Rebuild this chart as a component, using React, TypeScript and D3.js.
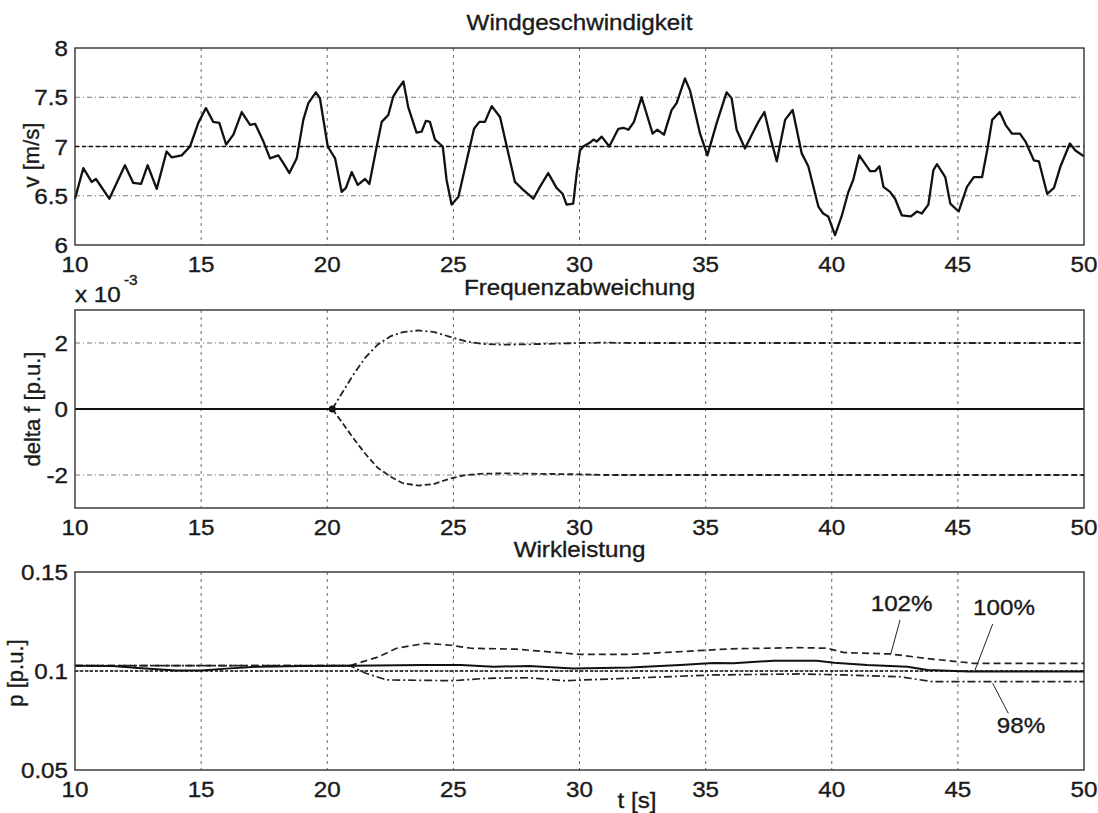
import * as d3 from 'd3';

type Pt = [number, number];

const timeTicks = [10, 15, 20, 25, 30, 35, 40, 45, 50];
const windTicks = [6, 6.5, 7, 7.5, 8];
const freqTicks = [-2, 0, 2];
const powerTicks = [0.05, 0.1, 0.15];

// Windgeschwindigkeit v [m/s] over t [s]
const windSpeed: Pt[] = [
  [10, 6.47], [10.33, 6.78], [10.66, 6.64], [10.83, 6.67], [11.36, 6.47], [11.98, 6.81],
  [12.31, 6.63], [12.62, 6.62], [12.88, 6.81], [13.24, 6.57], [13.63, 6.95], [13.83, 6.89],
  [14.23, 6.91], [14.56, 7.0], [14.89, 7.24], [15.19, 7.39], [15.48, 7.25], [15.72, 7.24],
  [15.99, 7.02], [16.28, 7.12], [16.61, 7.35], [16.94, 7.22], [17.14, 7.23], [17.47, 7.05],
  [17.73, 6.88], [18.06, 6.91], [18.26, 6.83], [18.5, 6.73], [18.79, 6.88], [19.05, 7.27],
  [19.25, 7.44], [19.55, 7.55], [19.71, 7.49], [20.02, 7.0], [20.31, 6.88], [20.57, 6.54],
  [20.74, 6.58], [20.97, 6.74], [21.21, 6.61], [21.5, 6.67], [21.67, 6.62], [21.96, 7.0],
  [22.16, 7.25], [22.42, 7.32], [22.62, 7.51], [22.82, 7.59], [23.02, 7.66], [23.21, 7.4],
  [23.54, 7.14], [23.74, 7.15], [23.91, 7.26], [24.07, 7.25], [24.27, 7.07], [24.58, 7.0],
  [24.73, 6.66], [24.93, 6.41], [25.2, 6.49], [25.53, 6.86], [25.82, 7.18], [26.03, 7.25],
  [26.25, 7.25], [26.52, 7.41], [26.85, 7.3], [27.18, 6.93], [27.44, 6.64], [27.77, 6.56],
  [28.17, 6.47], [28.43, 6.59], [28.76, 6.73], [29.09, 6.58], [29.33, 6.52], [29.49, 6.41],
  [29.75, 6.42], [29.89, 6.73], [30.02, 6.96], [30.15, 7.0], [30.42, 7.04], [30.55, 7.07],
  [30.68, 7.05], [30.88, 7.1], [31.18, 7.0], [31.54, 7.18], [31.74, 7.19], [31.94, 7.17],
  [32.16, 7.25], [32.46, 7.5], [32.9, 7.13], [33.08, 7.17], [33.35, 7.12], [33.65, 7.37],
  [33.85, 7.44], [34.18, 7.69], [34.38, 7.57], [34.78, 7.13], [35.07, 6.91], [35.44, 7.24],
  [35.83, 7.55], [36.03, 7.49], [36.23, 7.17], [36.56, 6.98], [36.83, 7.12], [37.09, 7.25],
  [37.33, 7.35], [37.59, 7.07], [37.82, 6.85], [38.15, 7.27], [38.45, 7.37], [38.81, 6.93],
  [39.07, 6.8], [39.47, 6.39], [39.66, 6.32], [39.86, 6.29], [40.13, 6.1], [40.39, 6.29],
  [40.66, 6.54], [40.85, 6.66], [41.09, 6.91], [41.52, 6.75], [41.72, 6.75], [41.89, 6.8],
  [42.05, 6.59], [42.31, 6.54], [42.51, 6.47], [42.78, 6.3], [43.14, 6.29], [43.38, 6.34],
  [43.57, 6.32], [43.83, 6.41], [44.03, 6.76], [44.17, 6.82], [44.5, 6.69], [44.7, 6.42],
  [45.03, 6.34], [45.36, 6.59], [45.63, 6.69], [45.96, 6.69], [46.16, 6.96], [46.36, 7.27],
  [46.66, 7.35], [46.89, 7.22], [47.15, 7.13], [47.46, 7.13], [47.68, 7.05], [48.01, 6.86],
  [48.21, 6.85], [48.54, 6.52], [48.81, 6.58], [49.07, 6.8], [49.44, 7.03], [49.66, 6.96],
  [50, 6.9],
];
const windMean: Pt[] = [[10, 7], [50, 7]];

// Frequenzabweichung (x 10^-3 p.u.)
const freqZero: Pt[] = [[10, 0], [50, 0]];
const freqUp: Pt[] = [
  [20.2, 0], [20.6, 0.5], [21, 1.0], [21.5, 1.55], [22, 1.95], [22.5, 2.2], [23, 2.33],
  [23.6, 2.38], [24.2, 2.34], [24.9, 2.18], [25.5, 2.05], [26.2, 1.97], [27, 1.95],
  [28, 1.96], [29, 1.98], [30, 2.0], [31, 2.01], [32, 2.0], [50, 2.0],
];
const freqDown: Pt[] = [
  [20.2, 0], [20.6, -0.42], [21, -0.85], [21.5, -1.35], [22, -1.78], [22.5, -2.05],
  [23, -2.25], [23.6, -2.32], [24.2, -2.28], [24.9, -2.1], [25.5, -2.0], [26.2, -1.96],
  [27, -1.95], [28, -1.96], [30, -1.98], [31, -2.0], [50, -2.0],
];
const freqStart: Pt = [20.2, 0];

// Wirkleistung p [p.u.]
const powerRef: Pt[] = [[10, 0.1], [50, 0.1]];
const power100: Pt[] = [
  [10, 0.1027], [11.5, 0.1025], [12.5, 0.1015], [14, 0.1003], [15, 0.1002], [16, 0.1012],
  [17.3, 0.1022], [19, 0.1025], [21, 0.1027], [23.8, 0.103], [25.3, 0.103], [26.6, 0.1022],
  [28, 0.1025], [29.75, 0.1013], [32, 0.1018], [34, 0.103], [35.3, 0.104], [36.1, 0.1039],
  [37.7, 0.1052], [39.4, 0.1052], [40.1, 0.1042], [41.4, 0.103], [43, 0.1022], [43.8, 0.1005],
  [45.4, 0.0997], [50, 0.0997],
];
const power102: Pt[] = [
  [10, 0.1027], [20.9, 0.1027], [22, 0.107], [22.75, 0.1115], [23.9, 0.114], [24.9, 0.113],
  [25.7, 0.1115], [27.5, 0.111], [30, 0.1084], [32, 0.1084], [34.9, 0.1104], [36, 0.1112],
  [38.7, 0.1118], [39.8, 0.1115], [40.5, 0.1093], [42.3, 0.1086], [44, 0.106], [45.6, 0.1039],
  [50, 0.1039],
];
const power98: Pt[] = [
  [10, 0.1027], [20.9, 0.1027], [21.5, 0.099], [22.35, 0.0955], [25, 0.0951], [26.3, 0.0963],
  [28, 0.0966], [29.4, 0.0951], [31.9, 0.0963], [35.3, 0.098], [38.7, 0.0985], [40.5, 0.098],
  [42.7, 0.0971], [44, 0.0946], [50, 0.0946],
];

// labels with leader lines, in data units: text pos, leader start, leader end
const powerLabels = [
  { text: '102%', at: [42.77, 0.1305], from: [42.71, 0.1258], to: [42.34, 0.1086] },
  { text: '100%', at: [46.83, 0.1283], from: [46.38, 0.1237], to: [45.68, 0.1005] },
  { text: '98%', at: [47.5, 0.0685], from: [46.38, 0.0938], to: [47.0, 0.0786] },
];

const W = 1098;
const H = 813;
const LEFT = 75;
const RIGHT = 1084;
const FONT = '"Liberation Sans", Arial, Helvetica, sans-serif';
const INK = '#1a1a1a';
const STRETCH = 1.1;

const x = d3.scaleLinear().domain([10, 50]).range([LEFT, RIGHT]);

function Label({ px, py, anchor = 'middle', size = 22, rotate = false, children }: any) {
  const tf = rotate
    ? `translate(${px},${py}) rotate(-90)`
    : `translate(${px},${py}) scale(${STRETCH},1)`;
  return (
    <text transform={tf} textAnchor={anchor} fontSize={size} fontFamily={FONT}
      fill={INK} stroke={INK} strokeWidth={0.35}>
      {children}
    </text>
  );
}

interface PanelProps {
  top: number;
  bottom: number;
  domain: [number, number];
  ticks: number[];
  fmt: (v: number) => string;
  title: string;
  titleY: number;
  ylabel: string;
  ylabelX: number;
  ylabelY: number;
  children: (y: d3.ScaleLinear<number, number>) => any;
}

function Panel({ top, bottom, domain, ticks, fmt, title, titleY, ylabel, ylabelX, ylabelY, children }: PanelProps) {
  const y = d3.scaleLinear().domain(domain).range([bottom, top]);
  return (
    <g>
      {timeTicks.slice(1, -1).map(t => (
        <line key={'v' + t} x1={x(t)} x2={x(t)} y1={top} y2={bottom}
          stroke="#666" strokeWidth={1} strokeDasharray="3,4" />
      ))}
      {ticks.filter(v => v !== domain[0] && v !== domain[1]).map(v => (
        <line key={'h' + v} x1={LEFT} x2={RIGHT} y1={y(v)} y2={y(v)}
          stroke="#777" strokeWidth={1} strokeDasharray="5,3,1,3" />
      ))}
      {children(y)}
      <rect x={LEFT} y={top} width={RIGHT - LEFT} height={bottom - top}
        fill="none" stroke="#333" strokeWidth={1.4} />
      {ticks.map(v => (
        <Label key={'yl' + v} px={LEFT - 7} py={y(v) + 8} anchor="end">{fmt(v)}</Label>
      ))}
      {timeTicks.map(t => (
        <Label key={'xl' + t} px={x(t)} py={bottom + 27}>{t}</Label>
      ))}
      <Label px={(LEFT + RIGHT) / 2} py={titleY}>{title}</Label>
      <Label px={ylabelX} py={ylabelY} rotate>{ylabel}</Label>
    </g>
  );
}

function pathOf(data: Pt[], y: d3.ScaleLinear<number, number>) {
  return d3.line<Pt>().x(d => x(d[0])).y(d => y(d[1]))(data) || '';
}

export default function App() {
  return (
    <svg width={W} height={H} style={{ position: 'absolute', left: 0, top: 0, background: '#fff' }}>
      <rect width={W} height={H} fill="#fff" />

      <Panel top={48} bottom={245} domain={[6, 8]} ticks={windTicks} fmt={v => String(v)}
        title="Windgeschwindigkeit" titleY={30} ylabel="v [m/s]" ylabelX={39} ylabelY={155}>
        {y => (
          <g fill="none">
            <path d={pathOf(windMean, y)} stroke="#111" strokeWidth={1.3} strokeDasharray="4,3" />
            <path d={pathOf(windSpeed, y)} stroke="#111" strokeWidth={2.3} strokeLinejoin="round" />
          </g>
        )}
      </Panel>

      <Panel top={310} bottom={508} domain={[-3, 3]} ticks={freqTicks} fmt={v => String(v)}
        title="Frequenzabweichung" titleY={295} ylabel="delta f [p.u.]" ylabelX={40} ylabelY={409}>
        {y => (
          <g fill="none">
            <path d={pathOf(freqZero, y)} stroke="#111" strokeWidth={1.8} />
            <path d={pathOf(freqUp, y)} stroke="#222" strokeWidth={1.8} strokeDasharray="7,3,2,3" />
            <path d={pathOf(freqDown, y)} stroke="#222" strokeWidth={1.8} strokeDasharray="6,3" />
            <circle cx={x(freqStart[0])} cy={y(freqStart[1])} r={3.5} fill="#111" />
          </g>
        )}
      </Panel>
      <Label px={LEFT} py={302} anchor="start">x 10</Label>
      <Label px={124} py={285} anchor="start" size={14}>-3</Label>

      <Panel top={572} bottom={770} domain={[0.05, 0.15]} ticks={powerTicks} fmt={d3.format('~g')}
        title="Wirkleistung" titleY={557} ylabel="p [p.u.]" ylabelX={23} ylabelY={673}>
        {y => (
          <g>
            <g fill="none">
              <path d={pathOf(powerRef, y)} stroke="#111" strokeWidth={1.3} strokeDasharray="3,2" />
              <path d={pathOf(power98, y)} stroke="#222" strokeWidth={1.7} strokeDasharray="8,3,2,3" />
              <path d={pathOf(power102, y)} stroke="#222" strokeWidth={1.7} strokeDasharray="7,4" />
              <path d={pathOf(power100, y)} stroke="#111" strokeWidth={2} />
            </g>
            {powerLabels.map(l => (
              <g key={l.text}>
                <line x1={x(l.from[0])} y1={y(l.from[1])} x2={x(l.to[0])} y2={y(l.to[1])}
                  stroke="#222" strokeWidth={1} />
                <Label px={x(l.at[0])} py={y(l.at[1])}>{l.text}</Label>
              </g>
            ))}
          </g>
        )}
      </Panel>
      <Label px={637} py={808}>t [s]</Label>
    </svg>
  );
}
